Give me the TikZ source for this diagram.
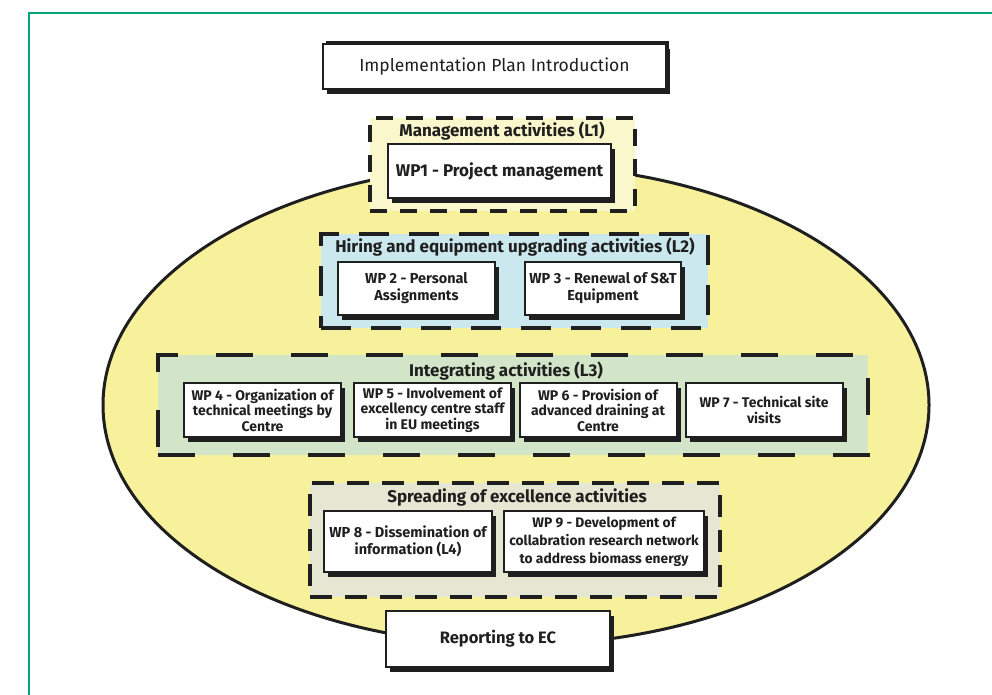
\documentclass[tikz,border=0pt]{standalone}
\usepackage{fontspec}
\setmainfont{Fira Sans}
\usetikzlibrary{shadows,positioning}
\definecolor{framegreen}{RGB}{0,166,126}
\definecolor{ellyellow}{RGB}{248,241,156}
\definecolor{lonefill}{RGB}{250,247,205}
\definecolor{ltwofill}{RGB}{203,232,238}
\definecolor{lthreefill}{RGB}{211,229,200}
\definecolor{lfourfill}{RGB}{230,231,210}
\colorlet{ink}{black!88}

\tikzset{
  wpbox/.style={draw=ink, line width=2pt, fill=white, align=center,
    inner sep=0pt, text=ink,
    drop shadow={shadow xshift=4pt, shadow yshift=-5pt, fill=ink, opacity=1}},
  group/.style={draw=ink, line width=3.3pt, dash pattern=#1, inner sep=0pt},
  grouplabel/.style={inner sep=0pt, text=ink,
    font=\fontsize{17}{20}\selectfont\bfseries},
}

\begin{document}
\begin{tikzpicture}[x=1pt, y=-1pt]
  \useasboundingbox (0,0) rectangle (992,695);
  \draw[framegreen, line width=2pt] (29,695) -- (29,13) -- (992,13);

  % big ellipse
  \draw[ink, fill=ellyellow, line width=3pt] (516,405) ellipse [x radius=413, y radius=240];

  % the four groups
  \node[group={on 17pt off 13pt}, fill=lonefill, minimum width=265pt,
        minimum height=93pt] (l1) at (502.5,164.5) {};
  \node[group={on 30pt off 20pt}, fill=ltwofill, minimum width=387pt,
        minimum height=94pt] (l2) at (514.5,281) {};
  \node[group={on 37pt off 38pt}, fill=lthreefill, minimum width=710pt,
        minimum height=100pt] (l3) at (513,405) {};
  \node[group={on 22pt off 13pt}, fill=lfourfill, minimum width=410pt,
        minimum height=114pt] (l4) at (515,540) {};

  \node[grouplabel] (l1label) at (502,131) {Management activities (L1)};
  \node[grouplabel] (l2label) at (515,247) {Hiring and equipment upgrading activities (L2)};
  \node[grouplabel] (l3label) at (506,371) {Integrating activities (L3)};
  \node[grouplabel] (l4label) at (517,497) {Spreading of excellence activities};

  % work packages
  \node[wpbox, minimum width=223pt, minimum height=54pt,
        font=\fontsize{17}{20}\selectfont\bfseries] (wp1) at (499.5,171) {WP1 - Project management};

  \node[wpbox, minimum width=157pt, minimum height=53pt,
        font=\fontsize{14.5}{17}\selectfont\bfseries] (wp2) at (416.5,288.5)
    {WP 2 - Personal\\Assignments};
  \node[wpbox, minimum width=156pt, minimum height=53pt,
        font=\fontsize{14.5}{17}\selectfont\bfseries] (wp3) at (603,288.5)
    {WP 3 - Renewal of S\&T\\Equipment};

  \foreach \n/\x/\txt in {
    4/262.5/{WP 4 - Organization of\\technical meetings by\\Centre},
    5/432.5/{WP 5 - Involvement of\\excellency centre staff\\in EU meetings},
    6/598/{WP 6 - Provision of\\advanced draining at\\Centre},
    7/764/{WP 7 - Technical site\\visits}}
  {
    \node[wpbox, minimum width=157pt, minimum height=54pt,
          font=\fontsize{14}{15.5}\selectfont\bfseries] (wp\n) at (\x,410) {\txt};
  }

  \node[wpbox, minimum width=168pt, minimum height=61pt,
        font=\fontsize{14.5}{17}\selectfont\bfseries] (wp8) at (408,541.5)
    {WP 8 - Dissemination of\\information (L4)};
  \node[wpbox, minimum width=200pt, minimum height=61pt,
        font=\fontsize{13.8}{18}\selectfont\bfseries] (wp9) at (604,541.5)
    {WP 9 - Development of\\collabration research network\\to address biomass energy};

  % title and reporting
  \node[wpbox, font=\fontsize{17.5}{20}\selectfont, minimum width=343pt,
        minimum height=45pt,
        drop shadow={shadow xshift=3pt, shadow yshift=3pt, fill=ink, opacity=1}]
    (intro) at (494.5,67) {Implementation Plan Introduction};
  \node[wpbox, minimum width=224pt, minimum height=56pt,
        font=\fontsize{16.5}{19}\selectfont\bfseries] (report) at (498,639) {Reporting to EC};
\end{tikzpicture}
\end{document}
